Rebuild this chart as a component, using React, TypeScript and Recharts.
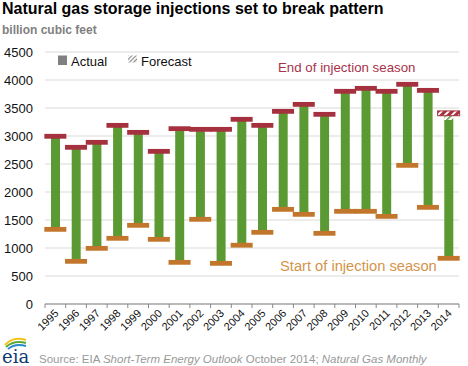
import React from 'react';
import { ComposedChart, Bar, Scatter, XAxis, YAxis, CartesianGrid } from 'recharts';

const years = [
  '1995', '1996', '1997', '1998', '1999', '2000', '2001', '2002', '2003', '2004',
  '2005', '2006', '2007', '2008', '2009', '2010', '2011', '2012', '2013', '2014',
];
// working gas in storage at start (April) and end (October) of injection season
const startLevels = [
  1333, 762, 994, 1173, 1405, 1155, 744, 1512, 726, 1050,
  1280, 1690, 1601, 1262, 1655, 1655, 1565, 2476, 1726, 816,
];
const endLevels = [
  2995, 2798, 2887, 3190, 3065, 2726, 3131, 3119, 3119, 3298,
  3190, 3440, 3565, 3387, 3798, 3851, 3798, 3923, 3815, 3405,
];
// last actual reading (only 2014 differs from the end level)
const actualTops = [
  2995, 2798, 2887, 3190, 3065, 2726, 3131, 3119, 3119, 3298,
  3190, 3440, 3565, 3387, 3798, 3851, 3798, 3923, 3815, 3286,
];
const forecastYears = ['2014'];
const yTicks = [0, 500, 1000, 1500, 2000, 2500, 3000, 3500, 4000, 4500];

const W = 468;
const H = 366;
const LEFT = 45;
const RIGHT = 9;
const HALF_BAND = (W - LEFT - RIGHT) / years.length / 2;

const GREEN = '#5b9a33';
const RED = '#a5303e';
const ORANGE = '#c1762b';
const FONT = 'Arial, "Liberation Sans", sans-serif';

const data = years.map((year, i) => {
  const forecast = forecastYears.includes(year);
  return {
    year,
    base: startLevels[i],
    injected: actualTops[i] - startLevels[i],
    forecastPart: endLevels[i] - actualTops[i],
    start: startLevels[i],
    end: forecast ? null : endLevels[i],
    endForecast: forecast ? endLevels[i] : null,
  };
});

const marker = (fill: string, stroke?: string) => (props: any) => {
  const { cx, cy } = props;
  if (cx == null || cy == null || Number.isNaN(cy)) return <g />;
  return (
    <rect
      x={cx - 11}
      y={cy - 2.4}
      width={22}
      height={4.8}
      fill={fill}
      stroke={stroke}
      strokeWidth={stroke ? 1 : 0}
    />
  );
};

const YearTick = (props: any) => {
  const { x, y, payload, index } = props;
  const ty = y + 10;
  return (
    <g>
      <line x1={x - HALF_BAND} x2={x - HALF_BAND} y1={y} y2={y + 4} stroke="#888" />
      {index === years.length - 1 && (
        <line x1={x + HALF_BAND} x2={x + HALF_BAND} y1={y} y2={y + 4} stroke="#888" />
      )}
      <text
        x={x + 4}
        y={ty}
        transform={`rotate(-45 ${x + 4} ${ty})`}
        textAnchor="end"
        fontSize={11}
        fontFamily={FONT}
        fill="#111"
      >
        {payload.value}
      </text>
    </g>
  );
};

export default function App() {
  return (
    <div style={{ position: 'absolute', left: 0, top: 0, width: W, height: H, background: '#fff' }}>
      <ComposedChart
        width={W}
        height={H}
        data={data}
        margin={{ top: 52, right: RIGHT, bottom: 22, left: 0 }}
      >
        <defs>
          <pattern id="hatchRed" width="5" height="5" patternUnits="userSpaceOnUse" patternTransform="rotate(45)">
            <rect width="5" height="5" fill={RED} />
            <rect width="2" height="5" fill="#fff" />
          </pattern>
          <pattern id="hatchGreen" width="4" height="4" patternUnits="userSpaceOnUse" patternTransform="rotate(45)">
            <rect width="1.5" height="4" fill={GREEN} />
          </pattern>
        </defs>
        <CartesianGrid vertical={false} stroke="#d9d9d9" />
        <XAxis
          dataKey="year"
          axisLine={{ stroke: '#888' }}
          tickLine={false}
          tickSize={0}
          tickMargin={0}
          height={40}
          interval={0}
          tick={<YearTick />}
        />
        <YAxis
          domain={[0, 4500]}
          ticks={yTicks}
          width={LEFT}
          axisLine={false}
          tickLine={false}
          tickSize={0}
          tickMargin={12}
          tick={{ fontSize: 13, fill: '#111', fontFamily: FONT }}
        />
        <Bar dataKey="base" stackId="s" fill="transparent" barSize={9} isAnimationActive={false} />
        <Bar dataKey="injected" stackId="s" fill={GREEN} barSize={9} isAnimationActive={false} />
        <Bar dataKey="forecastPart" stackId="s" fill="url(#hatchGreen)" barSize={9} isAnimationActive={false} />
        <Scatter dataKey="start" shape={marker(ORANGE)} isAnimationActive={false} />
        <Scatter dataKey="end" shape={marker(RED)} isAnimationActive={false} />
        <Scatter dataKey="endForecast" shape={marker('url(#hatchRed)', RED)} isAnimationActive={false} />
      </ComposedChart>
      <svg
        width={W}
        height={H}
        style={{ position: 'absolute', left: 0, top: 0, pointerEvents: 'none' }}
        fontFamily={FONT}
      >
        <defs>
          <pattern id="hatchGray" width="3" height="3" patternUnits="userSpaceOnUse" patternTransform="rotate(45)">
            <rect width="1.2" height="3" fill="#888" />
          </pattern>
        </defs>
        <text x={2} y={14} fontSize={16} fontWeight="bold" fill="#000">
          Natural gas storage injections set to break pattern
        </text>
        <text x={2} y={33.5} fontSize={12} fontWeight="bold" fill="#7f7f7f">
          billion cubic feet
        </text>
        <rect x={58} y={55.5} width={9} height={9.5} fill="#808080" />
        <text x={71} y={66} fontSize={13} fill="#111">Actual</text>
        <rect x={128} y={55.5} width={9} height={7} fill="url(#hatchGray)" />
        <text x={141} y={66} fontSize={13} fill="#111">Forecast</text>
        <text x={278} y={72} fontSize={13.3} fill="#a8324a">End of injection season</text>
        <text x={280} y={271} fontSize={14.7} fill="#d4944a">Start of injection season</text>
        <text x={39} y={363} fontSize={11.5} fill="#999">
          Source: EIA <tspan fontStyle="italic">Short-Term Energy Outlook</tspan> October 2014;{' '}
          <tspan fontStyle="italic">Natural Gas Monthly</tspan>
        </text>
        <path d="M5 345 Q13 336 26 340" stroke="#f2c316" strokeWidth={2} fill="none" />
        <path d="M6 347 Q14 340 26 343" stroke="#5aaa3c" strokeWidth={2} fill="none" />
        <path d="M8 349 Q15 343 26 346" stroke="#2a8ad0" strokeWidth={2} fill="none" />
        <text x={2} y={363} fontSize={18} fontFamily="'DejaVu Serif', 'Liberation Serif', serif" fill="#0f3a6e">
          eia
        </text>
      </svg>
    </div>
  );
}
